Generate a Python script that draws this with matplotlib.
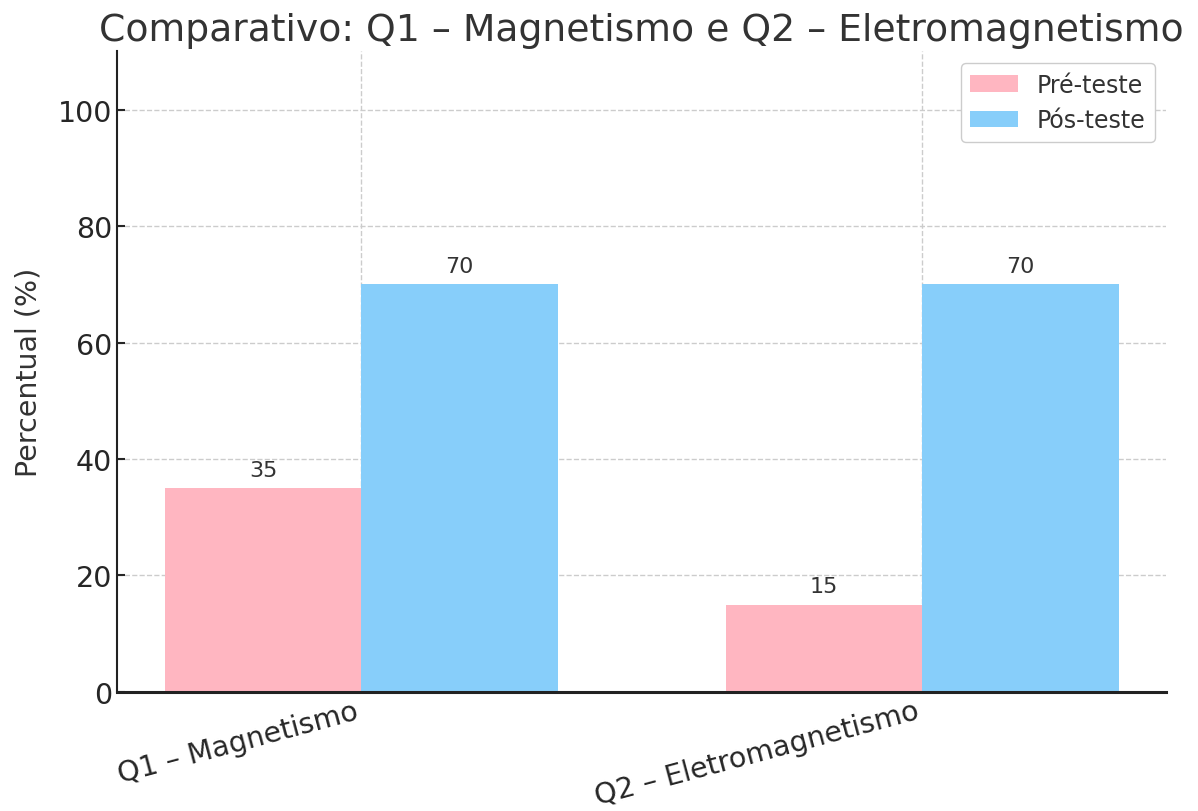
import numpy as np
import matplotlib
matplotlib.use("Agg")
import matplotlib.pyplot as plt

# Dados do gráfico
categorias = ["Q1 – Magnetismo", "Q2 – Eletromagnetismo"]
pre_teste = [35, 15]
pos_teste = [70, 70]
series = ["Pré-teste", "Pós-teste"]
cores = ["#FFB6C1", "#87CEFA"]

texto = "#333333"
plt.rcParams["font.family"] = ["DejaVu Sans"]
plt.rcParams["text.color"] = texto
plt.rcParams["axes.labelcolor"] = texto
plt.rcParams["xtick.color"] = "#262626"
plt.rcParams["ytick.color"] = "#262626"

fig = plt.figure(figsize=(11.98, 8.12), dpi=100)
ax = fig.add_axes([0.0977, 0.1466, 0.876, 0.789])

x = np.arange(len(categorias))
largura = 0.35
b1 = ax.bar(x - largura / 2, pre_teste, largura, label=series[0], color=cores[0], zorder=2)
b2 = ax.bar(x + largura / 2, pos_teste, largura, label=series[1], color=cores[1], zorder=2)

# Rótulos sobre as barras
for barras in (b1, b2):
    ax.bar_label(barras, padding=6, fontsize=16, color=texto)

ax.set_ylim(0, 110)
ax.set_xticks(x)
ax.set_xticklabels(categorias, rotation=15, ha="right", fontsize=20.5)
ax.tick_params(axis="y", labelsize=20.5, direction="in", length=6, width=1.5)
ax.tick_params(axis="x", direction="in", length=6, width=1.5)
ax.set_ylabel("Percentual (%)", fontsize=20.5, labelpad=11)
ax.set_title("Comparativo: Q1 – Magnetismo e Q2 – Eletromagnetismo", fontsize=27.2, pad=8)

ax.grid(True, linestyle="--", color="#cccccc", linewidth=1, zorder=0)
ax.set_axisbelow(True)
for lado in ["top", "right"]:
    ax.spines[lado].set_visible(False)
ax.spines["left"].set_color("#222222")
ax.spines["left"].set_linewidth(1.5)
ax.spines["bottom"].set_color("#222222")
ax.spines["bottom"].set_linewidth(2.2)

leg = ax.legend(loc="upper right", fontsize=17, frameon=True, fancybox=True,
                edgecolor="#cccccc", framealpha=1)
for t in leg.get_texts():
    t.set_color(texto)

fig.savefig("out.png", dpi=100)
